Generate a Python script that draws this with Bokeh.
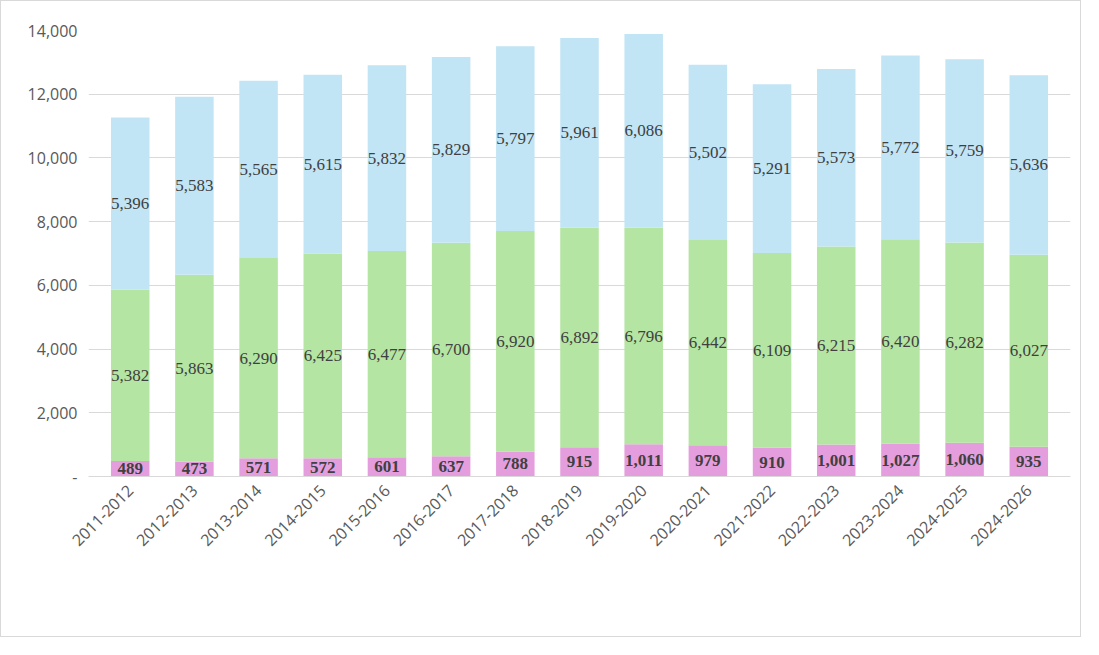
from bokeh.plotting import figure
from bokeh.models import ColumnDataSource, LabelSet, NumeralTickFormatter, Legend, LegendItem, Range1d, FixedTicker
from bokeh.embed import file_html
from bokeh.resources import INLINE

years = ["2011-2012","2012-2013","2013-2014","2014-2015","2015-2016","2016-2017","2017-2018","2018-2019","2019-2020","2020-2021","2021-2022","2022-2023","2023-2024","2024-2025","2024-2026"]
pkeep = [489,473,571,572,601,637,788,915,1011,979,910,1001,1027,1060,935]
charter = [5382,5863,6290,6425,6477,6700,6920,6892,6796,6442,6109,6215,6420,6282,6027]
dcps = [5396,5583,5565,5615,5832,5829,5797,5961,6086,5502,5291,5573,5772,5759,5636]
colors = ["#E59EDD", "#B4E5A2", "#C1E5F5"]
series = ["PKEEP", "Charter", "DCPS"]

src = ColumnDataSource(dict(
    x=years, PKEEP=pkeep, Charter=charter, DCPS=dcps,
    y_p=[a/2 for a in pkeep],
    y_c=[a+b/2 for a, b in zip(pkeep, charter)],
    y_d=[a+b+c/2 for a, b, c in zip(pkeep, charter, dcps)],
    t_p=[f"{v:,}" for v in pkeep], t_c=[f"{v:,}" for v in charter], t_d=[f"{v:,}" for v in dcps],
))

p = figure(x_range=years, width=1081, height=637, output_backend="svg", toolbar_location=None,
           min_border_left=87, min_border_right=12, min_border_top=29, min_border_bottom=162,
           styles={"border": "1px solid #d9d9d9"})
p.y_range = Range1d(0, 14000)
r = p.vbar_stack(series, x="x", width=0.6, color=colors, source=src, line_color=None)

for ycol, tcol, bold in [("y_p", "t_p", True), ("y_c", "t_c", False), ("y_d", "t_d", False)]:
    p.add_layout(LabelSet(x="x", y=ycol, text=tcol, source=src, text_align="center", text_baseline="middle",
                          text_font="Open Sans", text_font_size="17px", text_color="#404040",
                          text_font_style="bold" if bold else "normal"))

p.yaxis.ticker = FixedTicker(ticks=list(range(0, 14001, 2000)))
p.yaxis.formatter = NumeralTickFormatter(format="0,0")
p.yaxis.major_label_overrides = {0: "-"}
p.yaxis.axis_line_color = None
p.yaxis.major_tick_line_color = None
p.yaxis.minor_tick_line_color = None
p.xaxis.major_tick_line_color = None
p.xaxis.axis_line_color = "#d9d9d9"
p.xaxis.major_label_orientation = 0.785
for ax in (p.xaxis, p.yaxis):
    ax.major_label_text_font = "Open Sans"
    ax.major_label_text_font_size = "16px"
    ax.major_label_text_color = "#595959"
p.xgrid.grid_line_color = None
p.ygrid.grid_line_color = "#d9d9d9"
p.outline_line_color = None
p.x_range.range_padding = 0.02

legend = Legend(items=[LegendItem(label=s, renderers=[rr]) for s, rr in zip(series, r)],
                orientation="horizontal", location=(375, -140), label_text_font="Open Sans",
                label_text_font_size="16px", label_text_color="#595959", background_fill_alpha=0,
                glyph_width=12, glyph_height=12, border_line_color=None, spacing=15, padding=2)
p.add_layout(legend, "center")

open("out.html", "w").write(file_html(p, INLINE))
